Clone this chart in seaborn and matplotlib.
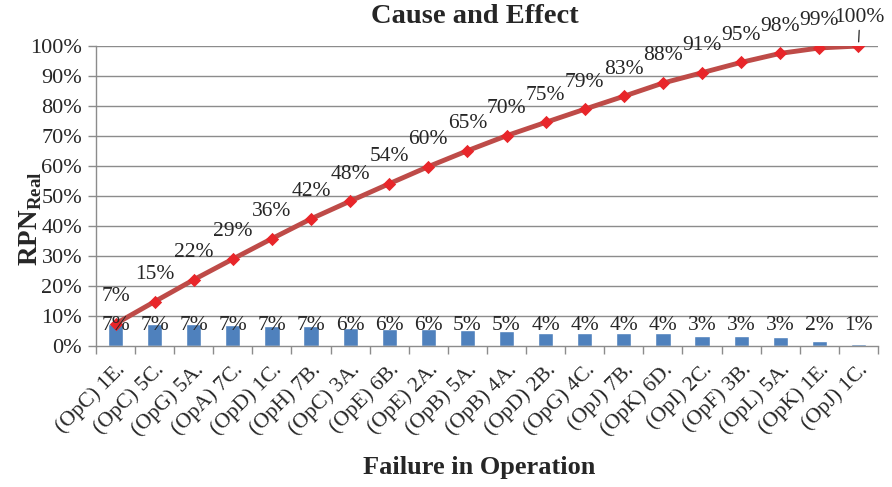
import numpy as np
import pandas as pd
import matplotlib
matplotlib.use("Agg")
import matplotlib.pyplot as plt
import seaborn as sns

# Failure modes ordered by share of real RPN (Pareto order)
failures = ["(OpC) 1E.", "(OpC) 5C.", "(OpG) 5A.", "(OpA) 7C.", "(OpD) 1C.",
            "(OpH) 7B.", "(OpC) 3A.", "(OpE) 6B.", "(OpE) 2A.", "(OpB) 5A.",
            "(OpB) 4A.", "(OpD) 2B.", "(OpG) 4C.", "(OpJ) 7B.", "(OpK) 6D.",
            "(OpI) 2C.", "(OpF) 3B.", "(OpL) 5A.", "(OpK) 1E.", "(OpJ) 1C."]
# Share of each failure mode (%)
share = [7.4, 7.4, 7.3, 6.9, 6.8, 6.6, 5.9, 5.8, 5.7, 5.3,
         5.0, 4.45, 4.4, 4.3, 4.4, 3.45, 3.45, 3.0, 1.8, 0.65]
# Cumulative share (%)
cumulative = [7.4, 14.8, 22.1, 29.0, 35.8, 42.4, 48.3, 54.1, 59.8, 65.1,
              70.1, 74.55, 78.95, 83.25, 87.65, 91.1, 94.55, 97.55, 99.35, 100.0]
y_ticks = [0, 10, 20, 30, 40, 50, 60, 70, 80, 90, 100]

sns.set_theme(style="white")
plt.rcParams["font.family"] = ["Liberation Serif", "DejaVu Serif"]
plt.rcParams["mathtext.fontset"] = "custom"
plt.rcParams["mathtext.rm"] = "Liberation Serif"
plt.rcParams["mathtext.bf"] = "Liberation Serif:bold"

df = pd.DataFrame({"failure": failures, "share": share,
                   "cumulative": cumulative, "pos": np.arange(len(failures))})

fig = plt.figure(figsize=(8.92, 4.87), dpi=100)
ax = fig.add_axes([0.1076, 0.2895, 0.8767, 0.616])

grid_c = "#8c8c8c"
bar_c = "#4F81BD"
line_c = "#BE4B48"
mark_c = "#E8262A"
txt_c = "#262626"

ax.set_axisbelow(True)
for t in y_ticks[1:]:
    ax.axhline(t, color=grid_c, lw=1.0, zorder=0)

sns.barplot(data=df, x="failure", y="share", color=bar_c, width=0.39,
            saturation=1, ax=ax, zorder=2)
sns.lineplot(data=df, x="pos", y="cumulative", color=line_c, lw=3.5,
             sort=False, ax=ax, zorder=3)
sns.scatterplot(data=df, x="pos", y="cumulative", marker="D", s=46,
                color=mark_c, edgecolor=mark_c, linewidth=0, ax=ax, zorder=4)

# Value labels on the bars
for i, v in enumerate(share):
    ax.text(i, 7.0, f"{v:.0f}%", ha="center", va="center", fontsize=15.5,
            color=txt_c, zorder=5)

# Cumulative labels above the line points
n = len(cumulative)
for i, c in enumerate(cumulative):
    if i == n - 1:
        ax.annotate(f"{c:.0f}%", xy=(i, c), xytext=(1.0, 20.5),
                    textcoords="offset points", ha="center", va="center",
                    fontsize=15.5, color=txt_c, zorder=5, annotation_clip=False,
                    arrowprops=dict(arrowstyle="-", color=txt_c, lw=0.9,
                                    shrinkA=0, shrinkB=3))
    else:
        ax.annotate(f"{c:.0f}%", xy=(i, c), xytext=(0, 19.5),
                    textcoords="offset points", ha="center", va="center",
                    fontsize=15.5, color=txt_c, zorder=5, annotation_clip=False)

ax.set_xlim(-0.5, n - 0.5)
ax.set_ylim(0, 100)
ax.set_yticks(y_ticks)
ax.set_yticklabels([f"{t}%" for t in y_ticks], fontsize=16, color=txt_c)
ax.set_xticks(range(n))
ax.set_xticklabels(failures, rotation=45, ha="right", rotation_mode="anchor",
                   fontsize=15.5, color=txt_c)
ax.set_xticks(np.arange(-0.5, n, 1.0), minor=True)
ax.tick_params(axis="x", which="major", length=0, pad=10)
ax.tick_params(axis="x", which="minor", length=6, width=1, color=grid_c,
               direction="out", bottom=True)
ax.tick_params(axis="y", length=6, width=1, color=grid_c, direction="out",
               left=True, pad=4)

for side in ["top", "right"]:
    ax.spines[side].set_visible(False)
for side in ["left", "bottom"]:
    ax.spines[side].set_color(grid_c)
    ax.spines[side].set_linewidth(1.0)

ax.set_xlabel("")
ax.set_ylabel("")
fig.text(0.532, 0.966, "Cause and Effect", ha="center", va="center",
         fontsize=20.5, fontweight="bold", color=txt_c)
fig.text(0.537, 0.04, "Failure in Operation", ha="center", va="center",
         fontsize=19, fontweight="bold", color=txt_c)
fig.text(0.034, 0.552, r"$\mathbf{RPN}_{\mathbf{Real}}$", ha="center",
         va="center", rotation=90, fontsize=19.5, color=txt_c)

fig.savefig("out.png", dpi=100)
